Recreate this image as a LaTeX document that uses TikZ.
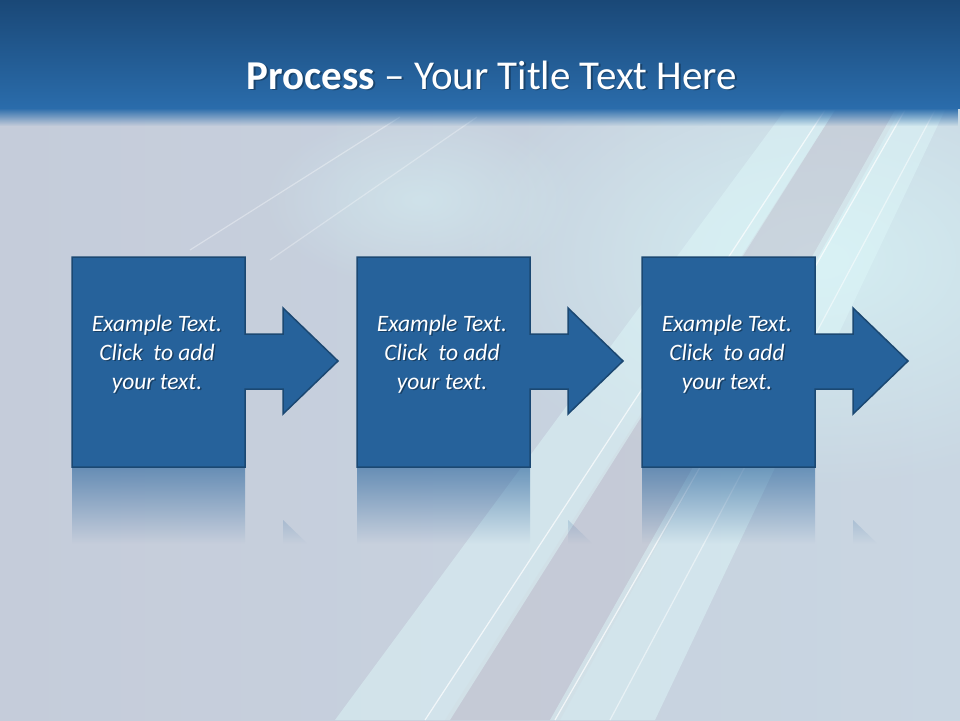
\documentclass[tikz,border=0pt]{standalone}
\usepackage{fontspec}
\setmainfont{Carlito}
\usetikzlibrary{fadings}

\definecolor{titletop}{HTML}{1A4877}
\definecolor{titlebot}{HTML}{2A6CAB}
\definecolor{bgleft}{HTML}{C5CCDA}
\definecolor{bgright}{HTML}{C9D6E2}
\definecolor{glow}{HTML}{D4EEF2}
\definecolor{streak}{HTML}{DDF6F8}
\definecolor{gapgray}{HTML}{C4C6D2}
\definecolor{boxblue}{HTML}{26629B}
\definecolor{boxedge}{HTML}{1B4872}

\tikzfading[name=fadedown, top color=transparent!40, bottom color=transparent!100,
  middle color=transparent!100]
\tikzfading[name=barfade, top color=transparent!0, bottom color=transparent!100]
\tikzfading[name=softglow, inner color=transparent!0, outer color=transparent!100]

\begin{document}
\begin{tikzpicture}
  [x=1pt,y=-1pt,
   stepshape/.style={fill=boxblue,draw=boxedge,line width=1.5pt,line join=miter},
   steptext/.style={text=white,font=\fontsize{23.5}{29}\selectfont\itshape,align=center},
   stepshadow/.style={steptext,text=black,opacity=0.35},
   streakband/.style={fill=streak,opacity=0.5},
   streakline/.style={draw=white,opacity=0.7,line width=1.2pt}]
  \useasboundingbox (0,0) rectangle (960,720);

  % background and light streaks
  \shade[left color=bgleft,right color=bgright] (0,0) rectangle (960,720);
  \fill[glow,path fading=softglow] (820,260) ellipse (360 and 230);
  \fill[glow,path fading=softglow,opacity=0.6] (420,200) ellipse (160 and 90);
  \fill[gapgray,opacity=0.6] (835,110) -- (900,110) -- (560,720) -- (445,720) -- cycle;
  \fill[streakband] (785,110) -- (835,110) -- (450,720) -- (335,720) -- cycle;
  \fill[streakband] (895,110) -- (945,110) -- (655,720) -- (550,720) -- cycle;
  \draw[streakline] (825,110) -- (425,720);
  \draw[streakline] (905,110) -- (555,720);
  \draw[streakline,opacity=0.5] (935,110) -- (610,720);
  \draw[streakline,opacity=0.35] (400,117) -- (190,250);
  \draw[streakline,opacity=0.3] (477,117) -- (270,260);

  % title bar
  \shade[top color=titletop,bottom color=titlebot] (0,0) rectangle (960,108);
  \fill[titlebot,path fading=barfade] (0,108) rectangle (960,126);
  \node[text=black,opacity=0.3,font=\fontsize{41}{46}\selectfont] (titleshadow) at (493.5,76.5)
    {\textbf{Process} -- Your Title Text Here};
  \node[text=white,font=\fontsize{41}{46}\selectfont] (title) at (492,75)
    {\textbf{Process} -- Your Title Text Here};

  % process steps with reflections
  \foreach \i/\dx in {1/0,2/285,3/570}{
    \begin{scope}[xshift=\dx]
      \begin{scope}
        \clip (72,467) -- (245,467) -- (245,545) -- (283,545) -- (283,520)
          -- (338,573) -- (283,626) -- (283,600) -- (245,600) -- (245,677)
          -- (72,677) -- cycle;
        \fill[boxblue,path fading=fadedown] (70,467) rectangle (340,620);
      \end{scope}
      \draw[stepshape] (72,257) -- (245,257) -- (245,334) -- (283,334) -- (283,308)
        -- (338,361) -- (283,414) -- (283,389) -- (245,389) -- (245,467) -- (72,467) -- cycle;
      \node[stepshadow] (shadow\i) at (158.5,355.5) {Example Text.\\Click\ \ to add\\your text.};
      \node[steptext] (step\i) at (157,354) {Example Text.\\Click\ \ to add\\your text.};
    \end{scope}
  }
\end{tikzpicture}
\end{document}
